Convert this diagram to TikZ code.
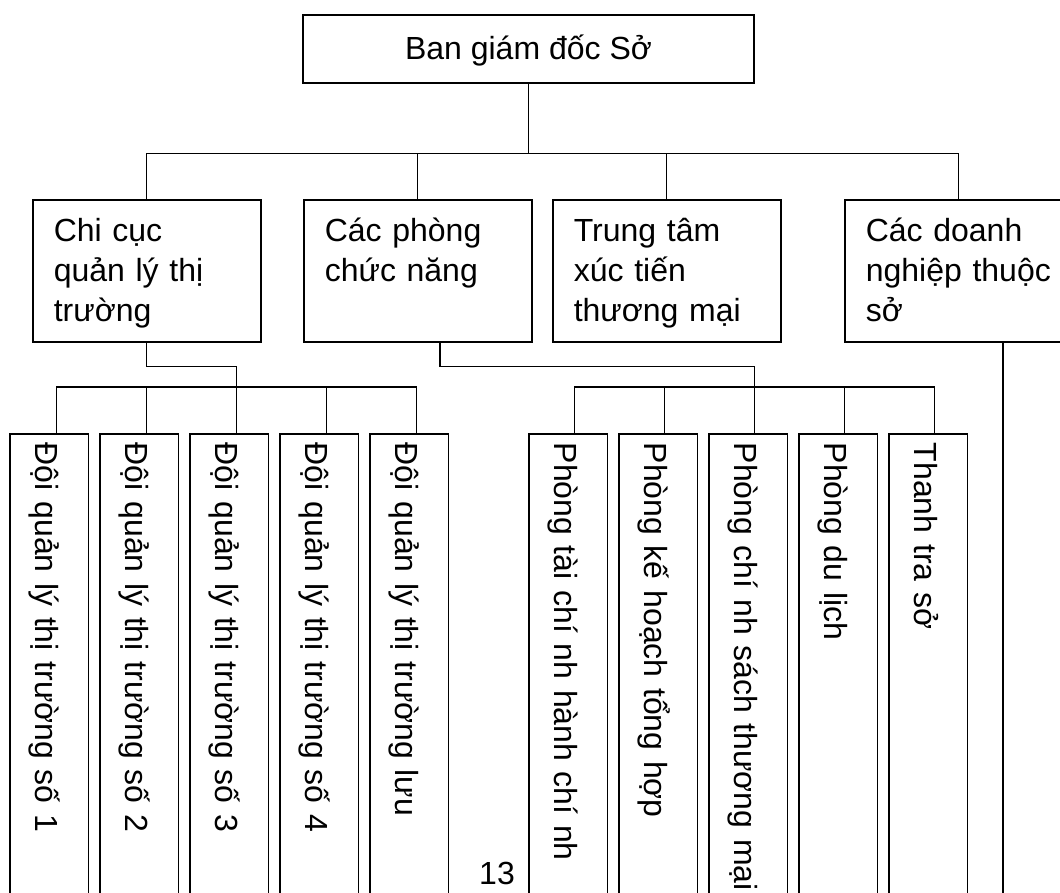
\documentclass[tikz,border=0pt]{standalone}
\usepackage{fontspec}
\setmainfont{Liberation Sans}
\begin{document}
\begin{tikzpicture}[x=1pt, y=-1pt,
    khung/.style={draw, line width=1.6pt, inner sep=0pt},
    noi/.style={line width=1.2pt},
    cap1/.style={khung, minimum width=451pt, text height=44pt, text depth=24pt,
      font=\fontsize{32}{40}\selectfont},
    cap2/.style={khung, anchor=north west, text width=186pt, inner xsep=21pt,
      align=left, text height=42pt, text depth=100pt, font=\fontsize{32}{40}\selectfont},
    doi/.style={khung, rotate=-90, anchor=west, text width=500pt, inner xsep=9pt,
      align=left, text height=53pt, text depth=25.5pt, font=\fontsize{32}{40}\selectfont}]
    \useasboundingbox (0,0) rectangle (1060,892);
    \clip (0,0) rectangle (1060,892);

    \node[cap1] (bgd) at (528.5,49) {Ban giám đốc Sở};

    \node[cap2] (ccqlt) at (32,199) {Chi cục\\quản lý thị\\trường};
    \node[cap2] (cpcn) at (303,199) {Các phòng\\chức năng};
    \node[cap2] (ttxt) at (552,199) {Trung tâm\\xúc tiến\\thương mại};
    \node[cap2] (cdn) at (844,199) {Các doanh\\nghiệp thuộc\\sở};

    % Cac doi quan ly thi truong
    \foreach \ten [count=\i from 0] in {số 1, số 2, số 3, số 4, lưu} {
      \node[doi] (d\i) at ({49.25+90*\i},433) {Đội quản lý thị trường \ten};
      \coordinate (m\i) at ([xshift=7pt]d\i.west);
    }

    % Cac phong chuc nang
    \foreach \ten [count=\i from 0] in {Phòng tài chí nh hành chí nh, Phòng kế hoạch tổng hợp,
        Phòng chí nh sách thương mại, Phòng du lịch, Thanh tra sở} {
      \node[doi] (p\i) at ({568.25+90*\i},433) {\ten};
      \coordinate (n\i) at ([xshift=6pt]p\i.west);
    }

    \node[font=\fontsize{32}{40}\selectfont, anchor=base, inner sep=0pt] (trang) at (497,884) {13};

    \draw[noi] (bgd.south) -- ++(0,70) coordinate (tren);
    \draw[noi] (ccqlt.north) |- (tren) -| (cdn.north);
    \foreach \n in {cpcn, ttxt} {
      \draw[noi] (\n.north) -- (\n.north |- tren);
    }

    \draw[noi] (ccqlt.south) -- ++(0,24) -| (m2);
    \draw[noi] (m0) -- ++(0,-46) -| (m4);
    \foreach \i in {1,2,3} {
      \draw[noi] (m\i) -- ++(0,-46);
    }

    \draw[noi] ([xshift=137pt]cpcn.south west) -- ++(0,24) -| (n2);
    \draw[noi] (n0) -- ++(0,-46) -| (n4);
    \foreach \i in {1,2,3} {
      \draw[noi] (n\i) -- ++(0,-46);
    }

    \coordinate (duoi) at (1003,910);
    \draw[noi] ([xshift=159pt]cdn.south west) -- (duoi);
\end{tikzpicture}
\end{document}
